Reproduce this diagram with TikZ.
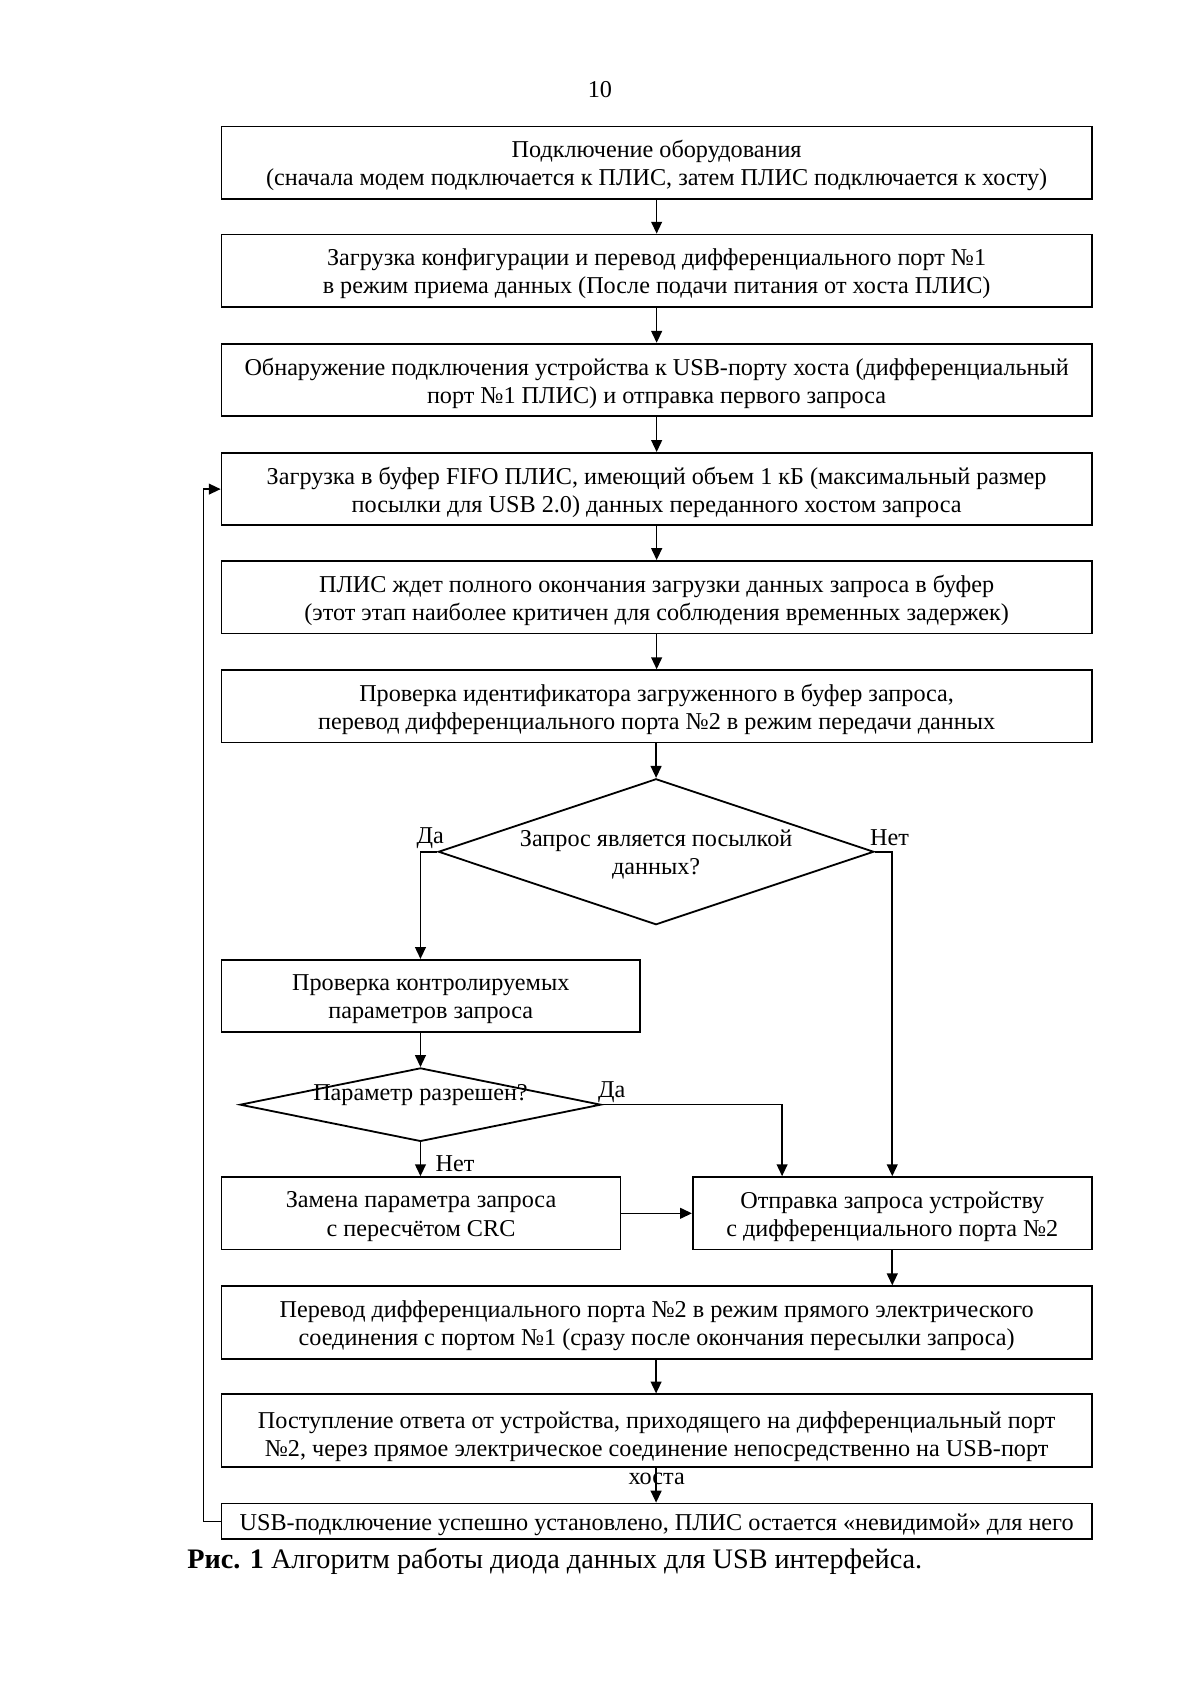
\documentclass[tikz,border=0pt]{standalone}
\usepackage{fontspec}
\setmainfont{Liberation Serif}
\usetikzlibrary{shapes.geometric,arrows.meta,calc}
\begin{document}
\begin{tikzpicture}[x=0.536pt,y=-0.536pt,
  txt/.style={font=\fontsize{12}{13.9}\selectfont,align=center,inner sep=0pt,yshift=-1.6pt},
  box/.style={draw,line width=0.9pt,minimum width=805*0.536pt,minimum height=67*0.536pt,inner sep=0pt},
  dia/.style={draw,shape=diamond,line width=0.9pt,inner sep=0pt},
  arr/.style={line width=0.8pt,-{Triangle[length=11*0.536pt,width=10*0.536pt]}},
  lbl/.style={font=\fontsize{12}{13.9}\selectfont,inner sep=0pt,yshift=-1.6pt}]
\useasboundingbox (0,0) rectangle (1110,1570);

\node[lbl] (pnum) at (555,80) {10};

\node[box] (b1) at (607.5,150.5) {};
\node[txt] (b1t) at (b1) {Подключение оборудования\\(сначала модем подключается к ПЛИС, затем ПЛИС подключается к хосту)};
\node[box] (b2) at (607.5,250.5) {};
\node[txt] (b2t) at (b2) {Загрузка конфигурации и перевод дифференциального порт №1\\в режим приема данных (После подачи питания от хоста ПЛИС)};
\node[box] (b3) at (607.5,351.5) {};
\node[txt] (b3t) at (b3) {Обнаружение подключения устройства к USB-порту хоста (дифференциальный\\порт №1 ПЛИС) и отправка первого запроса};
\node[box] (b4) at (607.5,452.5) {};
\node[txt] (b4t) at (b4) {Загрузка в буфер FIFO ПЛИС, имеющий объем 1 кБ (максимальный размер\\посылки для USB 2.0) данных переданного хостом запроса};
\node[box] (b5) at (607.5,552.5) {};
\node[txt] (b5t) at (b5) {ПЛИС ждет полного окончания загрузки данных запроса в буфер\\(этот этап наиболее критичен для соблюдения временных задержек)};
\node[box] (b6) at (607.5,653.5) {};
\node[txt] (b6t) at (b6) {Проверка идентификатора загруженного в буфер запроса,\\перевод дифференциального порта №2 в режим передачи данных};

\node[dia,minimum width=403*0.536pt,minimum height=135*0.536pt] (d1) at (607,788) {};
\node[txt] (d1t) at (d1) {Запрос является посылкой\\данных?};

\node[box,minimum width=387*0.536pt] (b7) at (398.5,921.5) {};
\node[txt] (b7t) at (b7) {Проверка контролируемых\\параметров запроса};

\node[dia,minimum width=334*0.536pt,minimum height=68*0.536pt] (d2) at (389,1022) {};
\node[txt] (d2t) at (389,1010) {Параметр разрешен?};

\node[box,minimum width=369*0.536pt] (b8) at (389.5,1122.5) {};
\node[txt] (b8t) at (b8) {Замена параметра запроса\\с пересчётом CRC};
\node[box,minimum width=369*0.536pt] (b9) at (825.5,1122.5) {};
\node[txt] (b9t) at (b9) {Отправка запроса устройству\\с дифференциального порта №2};

\node[box] (b10) at (607.5,1223.5) {};
\node[txt] (b10t) at (b10) {Перевод дифференциального порта №2 в режим прямого электрического\\соединения с портом №1 (сразу после окончания пересылки запроса)};
\node[box] (b11) at (607.5,1323.5) {};
\node[txt] (b11t) at (607.5,1337) {Поступление ответа от устройства, приходящего на дифференциальный порт\\№2, через прямое электрическое соединение непосредственно на USB-порт\\хоста};
\node[box,minimum height=33*0.536pt] (b12) at (607.5,1407.5) {};
\node[txt] (b12t) at (b12) {USB-подключение успешно установлено, ПЛИС остается «невидимой» для него};

\node[lbl,anchor=west,font=\fontsize{14}{16}\selectfont] (cap) at (173,1442) {\textbf{Рис. 1} Алгоритм работы диода данных для USB интерфейса.};

% labels
\node[lbl] (da1) at (398,772) {Да};
\node[lbl] (net1) at (823,772) {Нет};
\node[lbl] (da2) at (566,1007) {Да};
\node[lbl] (net2) at (421,1074) {Нет};

\coordinate (b9in) at ($(b9.north west)!0.225!(b9.north east)$);

% connectors
\draw[arr] (b1) -- (b2);
\draw[arr] (b2) -- (b3);
\draw[arr] (b3) -- (b4);
\draw[arr] (b4) -- (b5);
\draw[arr] (b5) -- (b6);
\draw[arr] (b6.south -| d1.north) -- (d1.north);
\draw[arr] (d1.west) -| (b7.north -| d2.north);
\draw[arr] (b7.south -| d2.north) -- (d2.north);
\draw[arr] (d2.south) -- (d2.south |- b8.north);
\draw[arr] (d2.east) -| (b9in);
\draw[arr] (d1.east) -| (b9.north);
\draw[arr] (b8.east) -- (b9.west);
\draw[arr] (b9.south) -- (b9.south |- b10.north);
\draw[arr] (b10.south -| d1.north) -- (b11.north -| d1.north);
\draw[arr] (b11.south -| d1.north) -- (b12.north -| d1.north);
\draw[arr] (b12.west) -- ++(-16,0) |- (b4.west);
\end{tikzpicture}
\end{document}
